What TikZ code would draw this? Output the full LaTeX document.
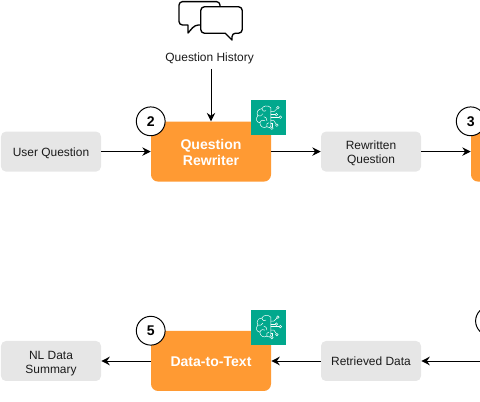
\documentclass[tikz,border=0pt]{standalone}
\usepackage{fontspec}
\setmainfont{Liberation Sans}
\usepackage{xcolor}
\usetikzlibrary{arrows.meta, calc, positioning}
\definecolor{Stone}  {HTML}{E6E6E6}
\definecolor{Amber}  {HTML}{FF9A33}
\definecolor{Jade}   {HTML}{01A88D}
\definecolor{Ink}    {HTML}{1A1A1A}
\tikzset{
  flow/.style={draw=black, line width=0.7pt, -{Stealth[length=6pt, width=6pt, inset=2pt]}},
  textdrop/.style={text height=#1, text depth=0pt},
  databox/.style={fill=Stone, rounded corners=3.5pt, minimum width=2.5cm, minimum height=1cm,
                  text=Ink, align=center, font=\fontsize{8.5}{10}\selectfont, inner sep=0pt},
  modelbox/.style={fill=Amber, rounded corners=5pt, minimum width=3cm, minimum height=1.5cm,
                   text=white, align=center, font=\fontsize{10}{11.5}\selectfont\bfseries, inner sep=0pt},
  stepmark/.style={circle, draw=black, fill=white, line width=0.7pt, minimum size=0.72cm,
                   inner sep=0pt, text=black, font=\fontsize{10}{12}\selectfont\bfseries},
  iconbox/.style={fill=Jade, minimum size=0.875cm, inner sep=0pt},
  bubble/.style={draw=black, fill=white, line width=0.95pt, line join=round},
  brain/.pic={
    \begin{scope}[x=0.025cm, y=-0.025cm, draw=white, line width=0.35pt, line cap=round]
      \draw (2,-10) .. controls (-1,-13) and (-6,-12) .. (-7,-9)
            .. controls (-11,-9) and (-13,-5) .. (-11,-2)
            .. controls (-14,1) and (-12,5) .. (-9,5)
            .. controls (-9,9) and (-5,11) .. (-2,9)
            .. controls (0,11) and (2,10) .. (2,8) -- cycle;
      \draw (-7,-9) .. controls (-6,-6) and (-4,-6) .. (-3,-7);
      \draw (-11,-2) .. controls (-9,-1) and (-7,-2) .. (-6,-4);
      \draw (-9,5) .. controls (-8,2) and (-5,2) .. (-4,3);
      \draw (-5,-1) .. controls (-3,-1) and (-2,1) .. (-2,3);
      \draw (-2,9) .. controls (-3,7) and (-2,5) .. (0,5);
      \draw (2,-6) -- (5,-6) -- (8,-9);
      \draw (2,-3) -- (6,-3);
      \draw (2,-0.5) -- (10,-0.5);
      \draw (2,3) -- (5,3) -- (7,6);
      \draw (2,6) -- (3,6) -- (3,9);
      \draw (9,-10) circle (1.3);
      \draw (7.5,-3) circle (1.3);
      \draw (11.5,-0.5) circle (1.3);
      \draw (8,7.5) circle (1.3);
      \draw (3,10.5) circle (1.3);
    \end{scope}
  }
}
\begin{document}
\begin{tikzpicture}[>=Stealth]
  \path[use as bounding box, clip] (0,0) rectangle (12,-10.05);
  % Upper row
  \node[databox, textdrop=7.2pt] (userq) at (1.275,-3.79) {User Question};
  \node[modelbox, textdrop=19.8pt] (rewriter) at (5.275,-3.79) {Question\\Rewriter};
  \node[databox, textdrop=17pt] (rewritten) at (9.275,-3.79) {Rewritten\\Question};
  \node[modelbox] (nexta) at (13.275,-3.79) {};
  % History
  \node[font=\fontsize{8.5}{11}\selectfont, text=Ink] (history) at (5.24,-1.46) {Question History};
  \draw[bubble, rounded corners=2.5pt] (4.475,-0.04) -- (5.5,-0.04) -- (5.5,-0.625) -- (4.875,-0.625)
    [sharp corners] -- (4.7,-0.825) -- (4.7,-0.625) [rounded corners=2.5pt] -- (4.475,-0.625) -- cycle;
  \draw[bubble, rounded corners=2.5pt] (5.02,-0.17) -- (6.055,-0.17) -- (6.055,-0.83) -- (5.8,-0.83)
    [sharp corners] -- (5.8,-1) -- (5.63,-0.83) [rounded corners=2.5pt] -- (5.02,-0.83) -- cycle;
  % Lower row
  \node[databox, textdrop=17.5pt] (summary) at (1.275,-9.025) {NL Data\\Summary};
  \node[modelbox, textdrop=7.2pt] (totext) at (5.275,-9.025) {Data-to-Text};
  \node[databox, textdrop=6.6pt] (retrieved) at (9.275,-9.025) {Retrieved Data};
  \coordinate (offpage) at (12.3,-9.025);
  % Icons
  \node[iconbox] (icona) at ($(rewriter.north east)+(-0.06,0.09)$) {};
  \node[iconbox] (iconb) at ($(totext.north east)+(-0.06,0.09)$) {};
  \pic at (icona) {brain};
  \pic at (iconb) {brain};
  % Step marks
  \node[stepmark] (stepa) at (rewriter.north west) {2};
  \node[stepmark] (stepb) at (nexta.north west) {3};
  \node[stepmark] (stepc) at (totext.north west) {5};
  \node[stepmark] (stepd) at (12.25,-8.025) {};
  % Flows
  \draw[flow] (userq) -- (rewriter);
  \draw[flow] (rewriter) -- (rewritten);
  \draw[flow] (rewritten) -- (nexta);
  \draw[flow] (history.south -| rewriter.north) -- (rewriter.north);
  \draw[flow] (offpage) -- (retrieved);
  \draw[flow] (retrieved) -- (totext);
  \draw[flow] (totext) -- (summary);
\end{tikzpicture}
\end{document}
